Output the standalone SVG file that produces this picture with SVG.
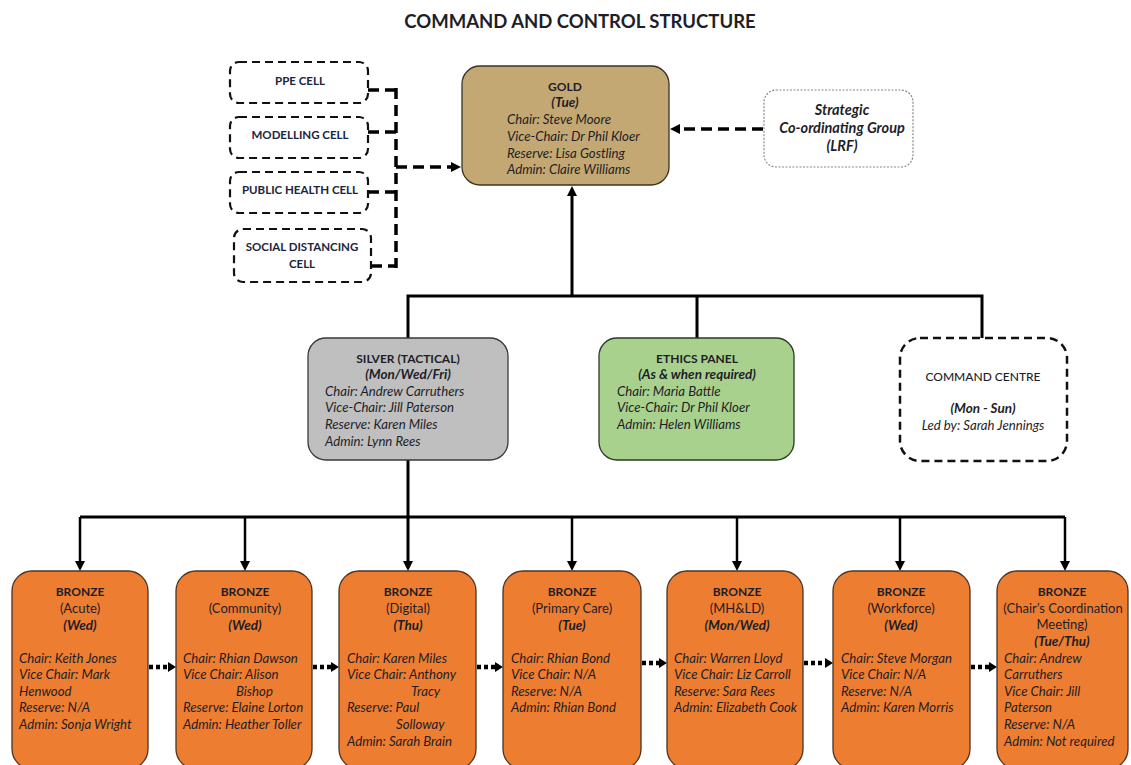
<svg xmlns="http://www.w3.org/2000/svg" width="1131" height="765" viewBox="0 0 1131 765">
<style>
text{font-family:Lato,"Liberation Sans",sans-serif;font-size:12px;fill:#1e1e28}
.c{text-anchor:middle}
.b{font-weight:bold}
.s{font-size:13px}
.i{font-style:italic;font-size:13.2px}
.bi{font-weight:bold;font-style:italic;font-size:13.5px}
.cell{fill:#fff;stroke:#111;stroke-width:2.2;stroke-dasharray:8,5}
.ct{font-weight:bold;font-size:11.5px;text-anchor:middle;fill:#1c2540}
.bronze{fill:#ED7D31;stroke:#4a3322;stroke-width:1.3}
.solid{stroke:#000;stroke-width:3;fill:none}
.dash{stroke:#000;stroke-width:3.5;fill:none;stroke-dasharray:11,6}
.dot{stroke:#000;stroke-width:4.5;fill:none;stroke-dasharray:4,3}
</style>
<defs>
<marker id="ah" markerWidth="10" markerHeight="10" refX="0" refY="5" orient="auto" markerUnits="userSpaceOnUse"><path d="M0,0 L10,5 L0,10 z" fill="#000" stroke="none"/></marker>
<marker id="ahs" markerWidth="8" markerHeight="10" refX="0" refY="5" orient="auto" markerUnits="userSpaceOnUse"><path d="M0,0 L8,5 L0,10 z" fill="#000" stroke="none"/></marker>
</defs>
<rect width="1131" height="765" fill="#fff"/>
<text x="580" y="28" class="c b" style="font-size:18.5px">COMMAND AND CONTROL STRUCTURE</text>

<g id="connectors">
<path class="dash" d="M368,90 H396 M368,132 H396 M368,192 H396 M371,266 H396 M396,88 V268"/>
<path class="dash" d="M396,167 H451" marker-end="url(#ah)"/>
<path class="dash" d="M763,129 H680" marker-end="url(#ah)"/>
<path class="solid" d="M572,296 V196" marker-end="url(#ah)"/>
<path class="solid" d="M408,338 V296 H982 V338 M697,296 V338"/>
<path class="solid" d="M408,460 V561" marker-end="url(#ah)"/>
<path class="solid" d="M80,517 H1065"/>
<path class="solid" style="stroke-width:2.5" d="M80,517 V561" marker-end="url(#ah)"/>
<path class="solid" style="stroke-width:2.5" d="M245,517 V561" marker-end="url(#ah)"/>
<path class="solid" style="stroke-width:2.5" d="M572,517 V561" marker-end="url(#ah)"/>
<path class="solid" style="stroke-width:2.5" d="M737,517 V561" marker-end="url(#ah)"/>
<path class="solid" style="stroke-width:2.5" d="M900,517 V561" marker-end="url(#ah)"/>
<path class="solid" style="stroke-width:2.5" d="M1065,517 V561" marker-end="url(#ah)"/>
<path class="dot" d="M149,667 H168" marker-end="url(#ahs)"/>
<path class="dot" d="M313,667 H331" marker-end="url(#ahs)"/>
<path class="dot" d="M477,667 H495" marker-end="url(#ahs)"/>
<path class="dot" d="M642,663 H659" marker-end="url(#ahs)"/>
<path class="dot" d="M804,663 H825" marker-end="url(#ahs)"/>
<path class="dot" d="M971,667 H989" marker-end="url(#ahs)"/>
</g>

<g id="ppe"><rect class="cell" x="230" y="62" width="138" height="41" rx="9"/><text class="ct" x="300" y="85">PPE CELL</text></g>
<g id="modelling"><rect class="cell" x="230" y="117" width="138" height="41" rx="9"/><text class="ct" x="300" y="139">MODELLING CELL</text></g>
<g id="publichealth"><rect class="cell" x="230" y="172" width="138" height="41" rx="9"/><text class="ct" x="300" y="194">PUBLIC HEALTH CELL</text></g>
<g id="socialdistancing"><rect class="cell" x="234" y="229" width="137" height="53" rx="9"/><text class="ct" x="302" y="251">SOCIAL DISTANCING</text><text class="ct" x="302" y="268">CELL</text></g>

<g id="gold">
<rect x="462" y="66" width="207" height="119" rx="18" fill="#C4A873" stroke="#3a3324" stroke-width="1.3"/>
<text class="c b" x="565" y="91">GOLD</text>
<text class="c bi" x="565" y="107">(Tue)</text>
<text class="i" x="507" y="124">Chair: Steve Moore</text>
<text class="i" x="507" y="141">Vice-Chair: Dr Phil Kloer</text>
<text class="i" x="507" y="158">Reserve: Lisa Gostling</text>
<text class="i" x="507" y="174">Admin: Claire Williams</text>
</g>

<g id="scg">
<rect x="764" y="90" width="149" height="77" rx="12" fill="#fff" stroke="#888" stroke-width="1.2" stroke-dasharray="2,1.5"/>
<text class="c bi" x="842" y="115" style="font-size:14.5px">Strategic</text>
<text class="c bi" x="842" y="133" style="font-size:14.5px">Co-ordinating Group</text>
<text class="c bi" x="842" y="151" style="font-size:14.5px">(LRF)</text>
</g>

<g id="silver">
<rect x="308" y="338" width="200" height="122" rx="18" fill="#BFBFBF" stroke="#3a3a3a" stroke-width="1.3"/>
<text class="c b" x="408" y="363">SILVER (TACTICAL)</text>
<text class="c bi" x="408" y="379">(Mon/Wed/Fri)</text>
<text class="i" x="325" y="396">Chair: Andrew Carruthers</text>
<text class="i" x="325" y="412">Vice-Chair: Jill Paterson</text>
<text class="i" x="325" y="429">Reserve: Karen Miles</text>
<text class="i" x="325" y="446">Admin: Lynn Rees</text>
</g>

<g id="ethics">
<rect x="599" y="338" width="195" height="122" rx="18" fill="#A9D18E" stroke="#2d3a26" stroke-width="1.3"/>
<text class="c b" x="697" y="363">ETHICS PANEL</text>
<text class="c bi" x="697" y="379">(As &amp; when required)</text>
<text class="i" x="617" y="396">Chair: Maria Battle</text>
<text class="i" x="617" y="412">Vice-Chair: Dr Phil Kloer</text>
<text class="i" x="617" y="429">Admin: Helen Williams</text>
</g>

<g id="commandcentre">
<rect class="cell" x="900" y="338" width="167" height="123" rx="20" style="stroke-width:2.5"/>
<text class="c" x="983" y="381" style="font-weight:500">COMMAND CENTRE</text>
<text class="c bi" x="983" y="413">(Mon - Sun)</text>
<text class="c i" x="983" y="430">Led by: Sarah Jennings</text>
</g>

<g id="bronze-acute">
<rect class="bronze" x="12" y="571" width="136" height="198" rx="20"/>
<text class="c b" x="80" y="596">BRONZE</text>
<text class="c s" x="80" y="613">(Acute)</text>
<text class="c bi" x="80" y="630">(Wed)</text>
<text class="i" x="19" y="663">Chair: Keith Jones</text>
<text class="i" x="19" y="679">Vice Chair: Mark</text>
<text class="i" x="19" y="696">Henwood</text>
<text class="i" x="19" y="712">Reserve: N/A</text>
<text class="i" x="19" y="729">Admin: Sonja Wright</text>
</g>

<g id="bronze-community">
<rect class="bronze" x="176" y="571" width="136" height="198" rx="20"/>
<text class="c b" x="245" y="596">BRONZE</text>
<text class="c s" x="245" y="613">(Community)</text>
<text class="c bi" x="245" y="630">(Wed)</text>
<text class="i" x="183" y="663">Chair: Rhian Dawson</text>
<text class="i" x="183" y="679">Vice Chair: Alison</text>
<text class="i" x="236" y="696">Bishop</text>
<text class="i" x="183" y="712">Reserve: Elaine Lorton</text>
<text class="i" x="183" y="729">Admin: Heather Toller</text>
</g>

<g id="bronze-digital">
<rect class="bronze" x="339" y="571" width="137" height="198" rx="20"/>
<text class="c b" x="408" y="596">BRONZE</text>
<text class="c s" x="408" y="613">(Digital)</text>
<text class="c bi" x="408" y="630">(Thu)</text>
<text class="i" x="347" y="663">Chair: Karen Miles</text>
<text class="i" x="347" y="679">Vice Chair: Anthony</text>
<text class="i" x="411" y="696">Tracy</text>
<text class="i" x="347" y="712">Reserve: Paul</text>
<text class="i" x="396" y="729">Solloway</text>
<text class="i" x="347" y="746">Admin: Sarah Brain</text>
</g>

<g id="bronze-primarycare">
<rect class="bronze" x="503" y="571" width="138" height="198" rx="20"/>
<text class="c b" x="572" y="596">BRONZE</text>
<text class="c s" x="572" y="613">(Primary Care)</text>
<text class="c bi" x="572" y="630">(Tue)</text>
<text class="i" x="511" y="663">Chair: Rhian Bond</text>
<text class="i" x="511" y="679">Vice Chair: N/A</text>
<text class="i" x="511" y="696">Reserve: N/A</text>
<text class="i" x="511" y="712">Admin: Rhian Bond</text>
</g>

<g id="bronze-mhld">
<rect class="bronze" x="667" y="571" width="136" height="198" rx="20"/>
<text class="c b" x="737" y="596">BRONZE</text>
<text class="c s" x="737" y="613">(MH&amp;LD)</text>
<text class="c bi" x="737" y="630">(Mon/Wed)</text>
<text class="i" x="674" y="663">Chair: Warren Lloyd</text>
<text class="i" x="674" y="679">Vice Chair: Liz Carroll</text>
<text class="i" x="674" y="696">Reserve: Sara Rees</text>
<text class="i" x="674" y="712">Admin: Elizabeth Cook</text>
</g>

<g id="bronze-workforce">
<rect class="bronze" x="833" y="571" width="137" height="198" rx="20"/>
<text class="c b" x="901" y="596">BRONZE</text>
<text class="c s" x="901" y="613">(Workforce)</text>
<text class="c bi" x="901" y="630">(Wed)</text>
<text class="i" x="841" y="663">Chair: Steve Morgan</text>
<text class="i" x="841" y="679">Vice Chair: N/A</text>
<text class="i" x="841" y="696">Reserve: N/A</text>
<text class="i" x="841" y="712">Admin: Karen Morris</text>
</g>

<g id="bronze-chairs">
<rect class="bronze" x="997" y="571" width="131" height="198" rx="20"/>
<text class="c b" x="1062" y="596">BRONZE</text>
<text class="c s" x="1063" y="613">(Chair’s Coordination</text>
<text class="c s" x="1062" y="629">Meeting)</text>
<text class="c bi" x="1062" y="646">(Tue/Thu)</text>
<text class="i" x="1004" y="663">Chair: Andrew</text>
<text class="i" x="1004" y="679">Carruthers</text>
<text class="i" x="1004" y="696">Vice Chair: Jill</text>
<text class="i" x="1004" y="712">Paterson</text>
<text class="i" x="1004" y="729">Reserve: N/A</text>
<text class="i" x="1004" y="746">Admin: Not required</text>
</g>
</svg>
